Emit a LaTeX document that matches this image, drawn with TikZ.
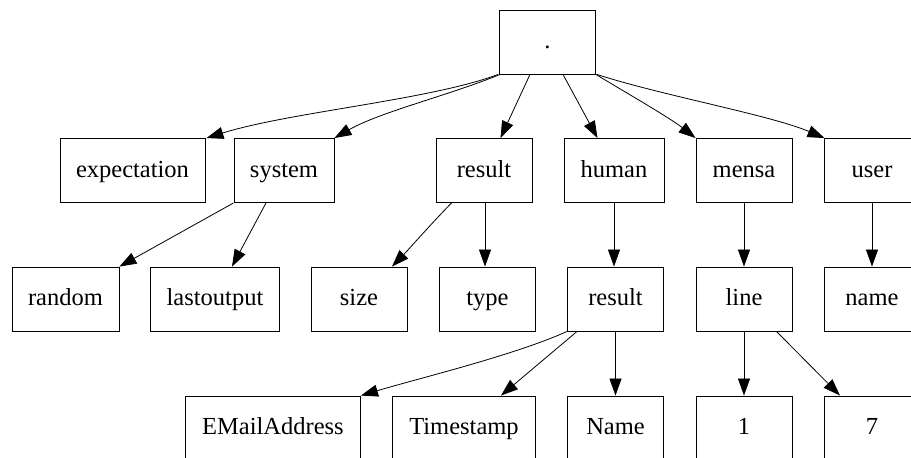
\documentclass[tikz,border=0pt]{standalone}
\usepackage{fontspec}
\setmainfont{Liberation Serif}
\usetikzlibrary{arrows.meta}
\begin{document}
\begin{tikzpicture}[x=1pt,y=-1pt,
  box/.style={draw, line width=0.9pt, inner sep=0pt, minimum height=64pt,
    text height=17pt, text depth=4pt,
    font=\fontsize{24.5}{28}\selectfont},
  edge/.style={line width=0.8pt, -{Triangle[length=17pt,width=12pt]}}]
\useasboundingbox (0,0) rectangle (911,458);
\clip (0,0) rectangle (911,458);
% root
\node[box, minimum width=96pt] (root) at (547.5,42) {.};
% first level
\node[box, minimum width=145pt] (expectation) at (132.5,170.5) {expectation};
\node[box, minimum width=100pt] (system) at (284,170.5) {system};
\node[box, minimum width=96pt] (result) at (484,170.5) {result};
\node[box, minimum width=100pt] (human) at (614,170.5) {human};
\node[box, minimum width=96pt] (mensa) at (744,170.5) {mensa};
\node[box, minimum width=96pt] (user) at (872,170.5) {user};
% second level
\node[box, minimum width=107pt] (random) at (65.5,299) {random};
\node[box, minimum width=129pt] (lastoutput) at (215,299) {lastoutput};
\node[box, minimum width=96pt] (size) at (359,299) {size};
\node[box, minimum width=96pt] (type) at (487.5,299) {type};
\node[box, minimum width=96pt] (hresult) at (615.5,299) {result};
\node[box, minimum width=96pt] (line) at (744,299) {line};
\node[box, minimum width=96pt] (name) at (872,299) {name};
% third level
\node[box, minimum width=175pt] (email) at (273,428) {EMailAddress};
\node[box, minimum width=143pt] (timestamp) at (464,428) {Timestamp};
\node[box, minimum width=96pt] (Name) at (615.5,428) {Name};
\node[box, minimum width=96pt] (one) at (744,428) {1};
\node[box, minimum width=96pt] (seven) at (872,428) {7};
% edges from the root
\draw[edge] ([xshift=-1pt]root.south west) .. controls (430,100) and (290,112) .. ([xshift=1pt]expectation.north east);
\draw[edge] ([xshift=1pt]root.south west) .. controls (450,95) and (380,112) .. (system.north east);
\draw[edge] ([xshift=-17.5pt]root.south) -- ([xshift=16.5pt]result.north);
\draw[edge] ([xshift=15.5pt]root.south) -- ([xshift=-16.5pt]human.north);
\draw[edge] (root.south east) .. controls (630,95) and (670,118) .. (mensa.north west);
\draw[edge] ([xshift=1pt]root.south east) .. controls (660,95) and (770,115) .. ([xshift=1pt]user.north west);
% system
\draw[edge] (system.south west) -- (random.north east);
\draw[edge] ([xshift=-18pt]system.south) -- ([xshift=17pt]lastoutput.north);
% result
\draw[edge] ([xshift=-32.5pt]result.south) .. controls (430,225) and (410,248) .. ([xshift=33pt]size.north);
\draw[edge] (result.south -| 485,0) -- (type.north -| 485,0);
% human
\draw[edge] (human.south) -- (hresult.north -| human.south);
\draw[edge] (hresult.south west) .. controls (515,355) and (420,378) .. (email.north east);
\draw[edge] ([xshift=-38.5pt]hresult.south) -- ([xshift=37pt]timestamp.north);
\draw[edge] (hresult.south) -- (Name.north);
% mensa
\draw[edge] (mensa.south) -- (line.north);
\draw[edge] (line.south) -- (one.north);
\draw[edge] ([xshift=32.5pt]line.south) -- ([xshift=-32pt]seven.north);
% user
\draw[edge] (user.south) -- (name.north);
\end{tikzpicture}
\end{document}
